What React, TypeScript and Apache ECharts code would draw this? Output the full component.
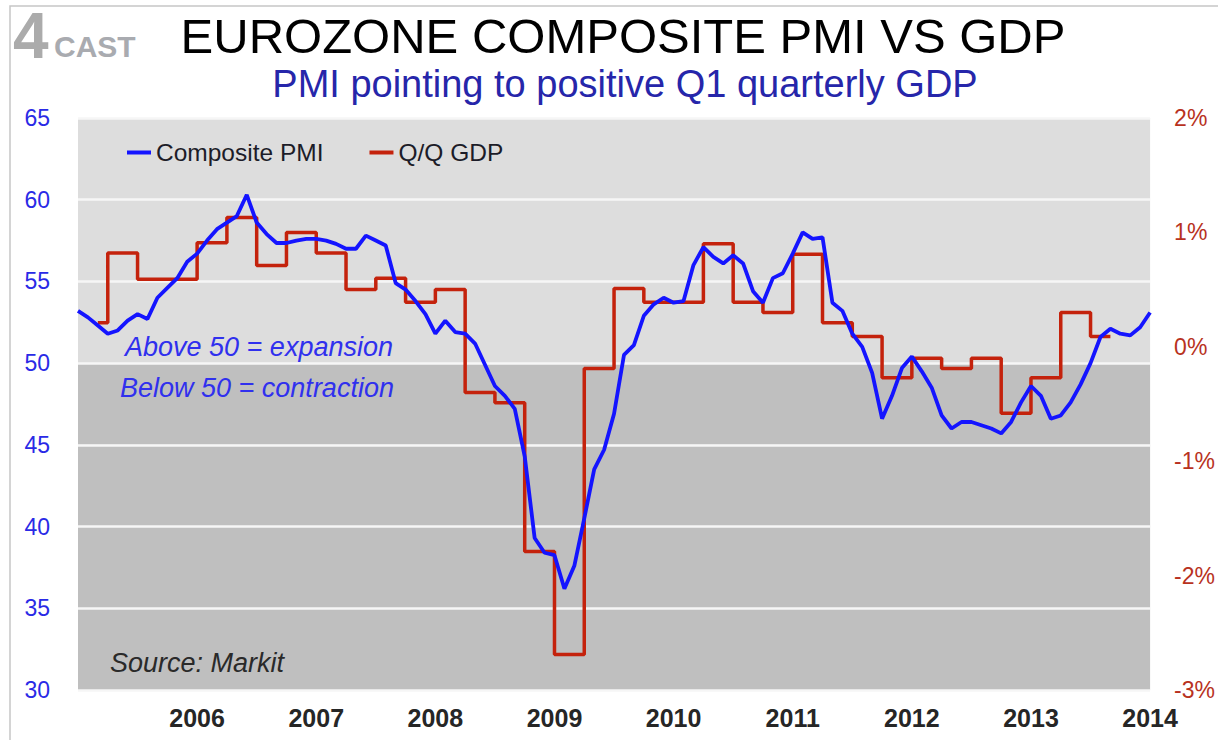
import React, { useEffect, useRef } from 'react';
import * as echarts from 'echarts';

// ---- Data ----
const startYear = 2005; // first monthly point = Jan 2005
const pmiLabel = 'Composite PMI';
const gdpLabel = 'Q/Q GDP';

// Eurozone composite PMI, monthly, Jan 2005 .. Jan 2014
const pmi2005 = [53.2, 52.8, 52.3, 51.8, 52.0, 52.6, 53.0, 52.7, 54.0, 54.6, 55.2, 56.2];
const pmi2006 = [56.7, 57.5, 58.2, 58.6, 59.0, 60.3, 58.6, 57.9, 57.35, 57.35, 57.5, 57.6];
const pmi2007 = [57.6, 57.5, 57.3, 57.0, 57.0, 57.8, 57.5, 57.2, 54.9, 54.5, 53.8, 53.0];
const pmi2008 = [51.8, 52.6, 51.9, 51.8, 51.2, 49.9, 48.6, 48.0, 47.2, 44.3, 39.3, 38.4];
const pmi2009 = [38.25, 36.2, 37.6, 40.5, 43.5, 44.7, 46.9, 50.5, 51.1, 52.9, 53.6, 54.0];
const pmi2010 = [53.7, 53.8, 56.0, 57.1, 56.5, 56.1, 56.6, 56.1, 54.4, 53.7, 55.2, 55.5];
const pmi2011 = [56.7, 58.0, 57.6, 57.7, 53.7, 53.2, 51.8, 51.0, 49.4, 46.6, 48.0, 49.7];
const pmi2012 = [50.4, 49.5, 48.5, 46.8, 46.0, 46.4, 46.4, 46.2, 46.0, 45.7, 46.4, 47.6];
const pmi2013 = [48.6, 48.0, 46.6, 46.8, 47.6, 48.7, 50.0, 51.6, 52.1, 51.8, 51.7, 52.2];
const pmi2014 = [53.1];

// Quarterly GDP growth (%), Q1 2005 .. Q3 2013
const gdpQuarters = [
  '2005Q1', '2005Q2', '2005Q3', '2005Q4',
  '2006Q1', '2006Q2', '2006Q3', '2006Q4',
  '2007Q1', '2007Q2', '2007Q3', '2007Q4',
  '2008Q1', '2008Q2', '2008Q3', '2008Q4',
  '2009Q1', '2009Q2', '2009Q3', '2009Q4',
  '2010Q1', '2010Q2', '2010Q3', '2010Q4',
  '2011Q1', '2011Q2', '2011Q3', '2011Q4',
  '2012Q1', '2012Q2', '2012Q3', '2012Q4',
  '2013Q1', '2013Q2', '2013Q3',
];
const gdpValues = [
  0.21, 0.82, 0.59, 0.59,
  0.91, 1.13, 0.71, 1.0,
  0.82, 0.5, 0.6, 0.39,
  0.5, -0.4, -0.49, -1.79,
  -2.69, -0.19, 0.51, 0.39,
  0.39, 0.9, 0.39, 0.3,
  0.81, 0.21, 0.09, -0.27,
  -0.1, -0.19, -0.1, -0.58,
  -0.27, 0.3, 0.09,
];
// GDP drawn monthly (quarter value repeated) from Mar 2005 to Sep 2013
const gdpFirstMonth = 2;
const gdpLastMonth = 104;

const yearTicks = [2006, 2007, 2008, 2009, 2010, 2011, 2012, 2013, 2014];
const leftTicks = [30, 35, 40, 45, 50, 55, 60, 65];
const rightTicks = [-3, -2, -1, 0, 1, 2];

const FONT = '"Liberation Sans", Arial, Helvetica, sans-serif';

export default function App() {
  const ref = useRef<HTMLDivElement>(null);

  useEffect(() => {
    document.body.style.margin = '0';
    if (!ref.current) return;
    const chart = echarts.init(ref.current, undefined, { renderer: 'svg' });

    const pmiAll = [
      ...pmi2005, ...pmi2006, ...pmi2007, ...pmi2008, ...pmi2009,
      ...pmi2010, ...pmi2011, ...pmi2012, ...pmi2013, ...pmi2014,
    ];
    const pmiData = pmiAll.map((v, i) => [startYear + i / 12, v]);
    const gdpData: number[][] = [];
    for (let m = gdpFirstMonth; m <= gdpLastMonth; m++) {
      gdpData.push([startYear + m / 12, gdpValues[Math.floor(m / 3)]]);
    }

    const areaColors = leftTicks.slice(0, -1).map((t) => (t < 50 ? '#bfbfbf' : '#dddddd'));

    chart.setOption({
      animation: false,
      backgroundColor: '#ffffff',
      textStyle: { fontFamily: FONT },
      grid: { left: 78, right: 64, top: 118, bottom: 50, containLabel: false },
      legend: {
        data: [pmiLabel, gdpLabel],
        left: 127,
        top: 140,
        padding: 0,
        icon: 'rect',
        itemWidth: 24,
        itemHeight: 4,
        itemGap: 46,
        textStyle: { fontSize: 24.5, color: '#1c1c28', fontFamily: FONT },
      },
      xAxis: {
        type: 'value',
        min: startYear,
        max: yearTicks[yearTicks.length - 1],
        interval: 1,
        axisLine: { show: false },
        axisTick: { show: false },
        splitLine: { show: false },
        axisLabel: {
          showMinLabel: false,
          showMaxLabel: true,
          margin: 15,
          fontSize: 25,
          fontWeight: 'bold',
          color: '#262626',
          fontFamily: FONT,
          formatter: (v: number) => (yearTicks.includes(Math.round(v)) ? String(Math.round(v)) : ''),
        },
      },
      yAxis: [
        {
          type: 'value',
          min: leftTicks[0],
          max: leftTicks[leftTicks.length - 1],
          interval: 5,
          axisLine: { show: false },
          axisTick: { show: false },
          axisLabel: { fontSize: 23, color: '#2a2ae6', margin: 28, fontFamily: FONT },
          splitLine: { show: true, lineStyle: { color: '#f6f6f6', width: 2.5 } },
          splitArea: { show: true, areaStyle: { color: areaColors } },
        },
        {
          type: 'value',
          min: rightTicks[0],
          max: rightTicks[rightTicks.length - 1],
          interval: 1,
          position: 'right',
          axisLine: { show: false },
          axisTick: { show: false },
          splitLine: { show: false },
          axisLabel: {
            fontSize: 23,
            color: '#b8321e',
            margin: 24,
            align: 'left',
            fontFamily: FONT,
            formatter: '{value}%',
          },
        },
      ],
      series: [
        {
          name: gdpLabel,
          type: 'line',
          yAxisIndex: 1,
          step: 'end',
          showSymbol: false,
          color: '#c4220c',
          lineStyle: { width: 3.5, color: '#c4220c' },
          data: gdpData,
        },
        {
          name: pmiLabel,
          type: 'line',
          yAxisIndex: 0,
          showSymbol: false,
          color: '#1414ff',
          lineStyle: { width: 3.8, color: '#1414ff' },
          data: pmiData,
        },
      ],
      graphic: [
        {
          type: 'polyline',
          shape: { points: [[10, 740], [10, 6], [1218, 6]] },
          style: { stroke: '#c6c6c6', lineWidth: 1.5, fill: 'none' },
          silent: true,
        },
        {
          type: 'text',
          x: 13,
          y: 36,
          style: {
            text: '4',
            fontSize: 64,
            fontWeight: 'bold',
            fontFamily: FONT,
            fill: '#ababab',
            textVerticalAlign: 'middle',
          },
        },
        {
          type: 'text',
          x: 54,
          y: 46,
          style: {
            text: 'CAST',
            fontSize: 30,
            fontWeight: 'bold',
            fontFamily: FONT,
            fill: '#a9abb0',
            textVerticalAlign: 'middle',
          },
        },
        {
          type: 'text',
          x: 623,
          y: 36,
          style: {
            text: 'EUROZONE COMPOSITE PMI VS GDP',
            fontSize: 49,
            fontFamily: FONT,
            fill: '#000000',
            textAlign: 'center',
            textVerticalAlign: 'middle',
          },
        },
        {
          type: 'text',
          x: 625,
          y: 84,
          style: {
            text: 'PMI pointing to positive Q1 quarterly GDP',
            fontSize: 38,
            fontFamily: FONT,
            fill: '#2626aa',
            textAlign: 'center',
            textVerticalAlign: 'middle',
          },
        },
        {
          type: 'text',
          x: 125,
          y: 347,
          z: 100,
          style: {
            text: 'Above 50 = expansion',
            fontSize: 27,
            fontStyle: 'italic',
            fontFamily: FONT,
            fill: '#3030ee',
            textVerticalAlign: 'middle',
          },
        },
        {
          type: 'text',
          x: 120,
          y: 388,
          z: 100,
          style: {
            text: 'Below 50 = contraction',
            fontSize: 27,
            fontStyle: 'italic',
            fontFamily: FONT,
            fill: '#3030ee',
            textVerticalAlign: 'middle',
          },
        },
        {
          type: 'text',
          x: 110,
          y: 663,
          z: 100,
          style: {
            text: 'Source: Markit',
            fontSize: 27,
            fontStyle: 'italic',
            fontFamily: FONT,
            fill: '#2a2a2a',
            textVerticalAlign: 'middle',
          },
        },
      ],
    });

    return () => {
      chart.dispose();
    };
  }, []);

  return <div ref={ref} style={{ width: 1218, height: 740 }} />;
}
